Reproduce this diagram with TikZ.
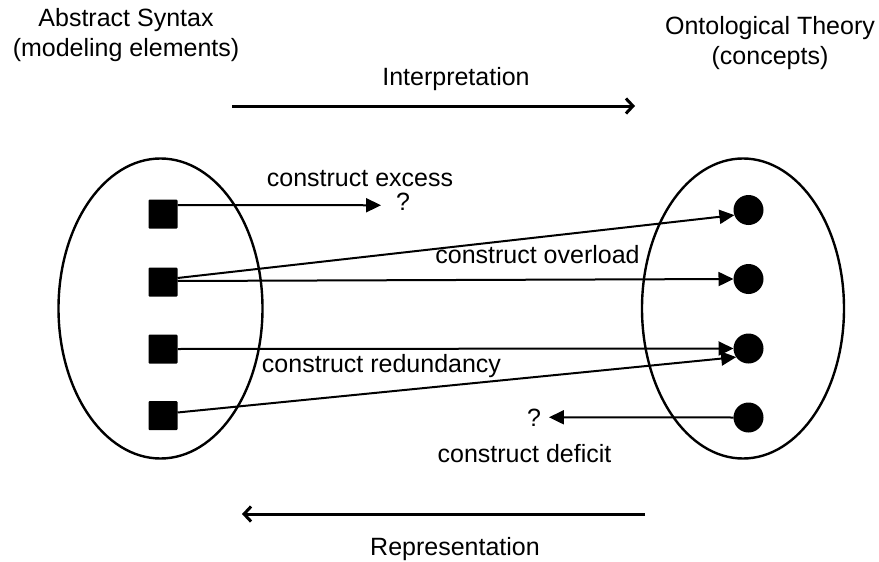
\documentclass[tikz,border=0pt]{standalone}
\usepackage{fontspec}
\setmainfont{Liberation Sans}
\usetikzlibrary{arrows.meta}
\begin{document}
\begin{tikzpicture}[x=1pt,y=-1pt,inner sep=0pt,outer sep=0pt,line width=2pt,
font=\fontsize{25}{30}\selectfont,
elemblock/.style={fill=black,rectangle,rounded corners=1pt,minimum width=29pt,minimum height=29pt},
conceptdot/.style={fill=black,circle,minimum size=30pt},
lbl/.style={anchor=base},
maparrow/.style={-{Triangle[length=15pt,width=14pt]}},
bigarrow/.style={line width=3pt,-{Straight Barb[length=7pt,width=15pt]}}]
\useasboundingbox (0,0) rectangle (879,562);
% headings
\draw (126,35.5) node[align=center] (syntax) {Abstract Syntax\\(modeling elements)};
\draw (770,43.5) node[align=center] (theory) {Ontological Theory\\(concepts)};
\draw (456,85) node[lbl] (interp) {Interpretation};
\draw (455,555) node[lbl] (repr) {Representation};
\coordinate (i1) at (232,106);
\coordinate (i2) at (635,106);
\coordinate (r1) at (645,514);
\coordinate (r2) at (242,514);
\draw[bigarrow] (i1) -- (i2);
\draw[bigarrow] (r1) -- (r2);
% the two sets
\draw[line width=2.4pt] (160.5,308.5) ellipse [x radius=102,y radius=150];
\draw[line width=2.4pt] (743,308.5) ellipse [x radius=101,y radius=150];
\draw (163,214) node[elemblock] (e1) {};
\draw (163,282) node[elemblock] (e2) {};
\draw (163,349) node[elemblock] (e3) {};
\draw (163,415.5) node[elemblock] (e4) {};
\draw (748.5,210) node[conceptdot] (c1) {};
\draw (748.5,279) node[conceptdot] (c2) {};
\draw (748.5,348.5) node[conceptdot] (c3) {};
\draw (748.5,417.5) node[conceptdot] (c4) {};
% mappings
\draw (403,210) node[lbl] (qa) {?};
\draw (534,426) node[lbl] (qb) {?};
\draw[maparrow] ([yshift=9pt]e1.east) -- ([xshift=-15pt,yshift=-4pt]qa.west);
\draw[maparrow] ([yshift=4pt]e2.east) -- (c1.200);
\draw[maparrow] ([yshift=1pt]e2.east) -- (c2.west);
\draw[maparrow] (e3.east) -- (c3.west);
\draw[maparrow] ([yshift=3pt]e4.east) -- (c3.215);
\draw[maparrow] (c4.west) -- ([xshift=8pt]qb.east);
\draw (360,186) node[lbl] (excess) {construct excess};
\draw (537.5,263) node[lbl] (overload) {construct overload};
\draw (381.5,372) node[lbl] (redund) {construct redundancy};
\draw (524.5,462) node[lbl] (deficit) {construct deficit};
\end{tikzpicture}
\end{document}
